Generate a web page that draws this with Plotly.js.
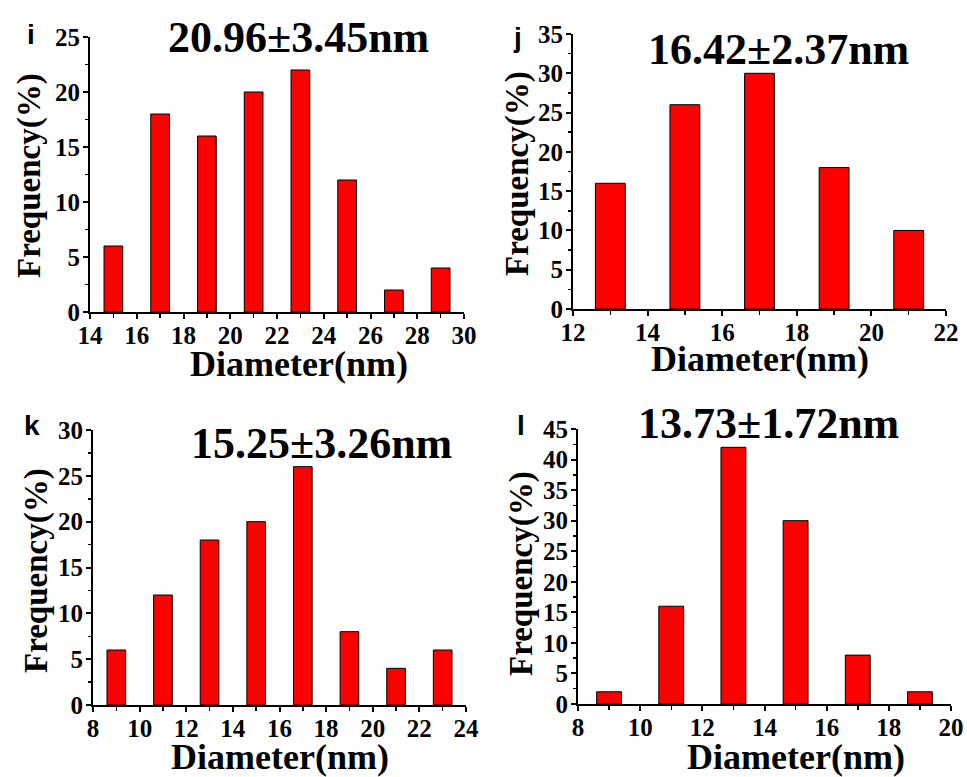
<!DOCTYPE html>
<html>
<head>
<meta charset="utf-8">
<script src="https://cdn.plot.ly/plotly-3.0.1.min.js"></script>
<style>html,body{margin:0;padding:0;background:#fff;}#chart{width:967px;height:777px;}</style>
</head>
<body>
<div id="chart"></div>
<script>
// ---- data ----
const diameterI = [15, 17, 19, 21, 23, 25, 27, 29];
const freqI = [6, 18, 16, 20, 22, 12, 2, 4];
const diameterJ = [13, 15, 17, 19, 21];
const freqJ = [16, 26, 30, 18, 10];
const diameterK = [9, 11, 13, 15, 17, 19, 21, 23];
const freqK = [6, 12, 18, 20, 26, 8, 4, 6];
const diameterL = [9, 11, 13, 15, 17, 19];
const freqL = [2, 16, 42, 30, 8, 2];
const panelLetters = ["i", "j", "k", "l"];
const sizeLabels = ["20.96±3.45nm", "16.42±2.37nm", "15.25±3.26nm", "13.73±1.72nm"];
const xTitle = "Diameter(nm)";
const yTitle = "Frequency(%)";

const W = 967, H = 777;
const px = x => x / W;
const py = y => 1 - y / H;
const serif = "Liberation Serif";
const sans = "Liberation Sans";

function bar(x, y, xa, ya) {
  return {type: "bar", x: x, y: y, xaxis: xa, yaxis: ya, width: 0.8,
    marker: {color: "#ff0000", line: {color: "#000", width: 1}},
    showlegend: false, hoverinfo: "x+y"};
}
const data = [
  bar(diameterI, freqI, "x", "y"),
  bar(diameterJ, freqJ, "x2", "y2"),
  bar(diameterK, freqK, "x3", "y3"),
  bar(diameterL, freqL, "x4", "y4")
];

function tickFont() { return {family: serif, size: 25, color: "#000", weight: "bold"}; }
function xax(dom, range, anchor) {
  return {domain: dom, range: range, anchor: anchor, dtick: 2, tick0: 0,
    showline: true, linewidth: 2, linecolor: "#000", showgrid: false, zeroline: false,
    ticks: "outside", ticklen: 5, tickwidth: 2, tickcolor: "#000", ticklabelstandoff: -5,
    minor: {dtick: 1, ticks: "outside", ticklen: 4, tickwidth: 1.5, tickcolor: "#000", showgrid: false},
    tickfont: tickFont(), fixedrange: true};
}
function yax(dom, range, anchor) {
  return {domain: dom, range: range, anchor: anchor, dtick: 5, tick0: 0,
    showline: true, linewidth: 2, linecolor: "#000", showgrid: false, zeroline: false,
    ticks: "outside", ticklen: 5, tickwidth: 2, tickcolor: "#000", ticklabelstandoff: -2,
    minor: {dtick: 2.5, ticks: "outside", ticklen: 3, tickwidth: 1.5, tickcolor: "#000", showgrid: false},
    tickfont: tickFont(), fixedrange: true};
}

// xt: [x center, y center] (null y => anchored to the bottom edge)
const panels = [
  {xd: [px(90), px(464)], yd: [py(312), py(37)], xr: [14, 30], yr: [0, 25],
   letter: [31, 35], label: [298, 38], xt: [299, 364], yt: [29, 176]},
  {xd: [px(573), px(946)], yd: [py(309), py(34)], xr: [12, 22], yr: [0, 35],
   letter: [517, 38], label: [778, 50], xt: [760, 359], yt: [517, 174]},
  {xd: [px(93), px(466)], yd: [py(705), py(430)], xr: [8, 24], yr: [0, 30],
   letter: [32, 425], label: [321, 443], xt: [280, null], yt: [36, 571]},
  {xd: [px(578), px(951)], yd: [py(704), py(429)], xr: [8, 20], yr: [0, 45],
   letter: [521, 425], label: [768, 423], xt: [796, null], yt: [521, 574]}
];

const layout = {width: W, height: H, margin: {l: 0, r: 0, t: 0, b: 0},
  font: {family: serif, size: 25, color: "#000", weight: "bold"},
  paper_bgcolor: "#fff", plot_bgcolor: "#fff", bargap: 0, annotations: []};

panels.forEach((p, i) => {
  const n = i === 0 ? "" : String(i + 1);
  layout["xaxis" + n] = xax(p.xd, p.xr, "y" + n);
  layout["yaxis" + n] = yax(p.yd, p.yr, "x" + n);
  const xtAtBottom = p.xt[1] === null;
  layout.annotations.push(
    {text: panelLetters[i], xref: "paper", yref: "paper", x: px(p.letter[0]), y: py(p.letter[1]),
     xanchor: "center", yanchor: "middle", showarrow: false,
     font: {family: sans, size: 28, color: "#000", weight: "bold"}},
    {text: sizeLabels[i], xref: "paper", yref: "paper", x: px(p.label[0]), y: py(p.label[1]),
     xanchor: "center", yanchor: "middle", showarrow: false,
     font: {family: serif, size: 44, color: "#000", weight: "bold"}},
    {text: xTitle, xref: "paper", yref: "paper", x: px(p.xt[0]), y: xtAtBottom ? 0 : py(p.xt[1]),
     xanchor: "center", yanchor: xtAtBottom ? "bottom" : "middle", showarrow: false,
     borderpad: 0, borderwidth: 0,
     font: {family: serif, size: 36, color: "#000", weight: "bold"}},
    {text: yTitle, xref: "paper", yref: "paper", x: px(p.yt[0]), y: py(p.yt[1]), textangle: -90,
     xanchor: "center", yanchor: "middle", showarrow: false,
     font: {family: serif, size: 33, color: "#000", weight: "bold"}}
  );
});

Plotly.newPlot("chart", data, layout, {displayModeBar: false, staticPlot: true});
</script>
</body>
</html>
